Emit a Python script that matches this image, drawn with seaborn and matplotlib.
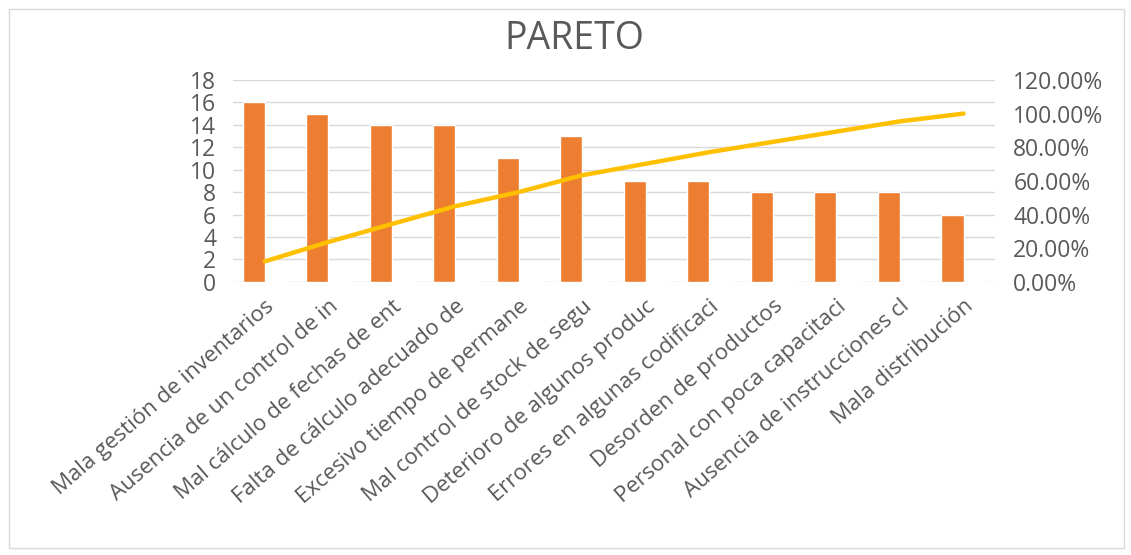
import numpy as np
import pandas as pd
import matplotlib
matplotlib.use('Agg')
import matplotlib.pyplot as plt
import matplotlib.patches as mpatches
from matplotlib.ticker import PercentFormatter
import seaborn as sns

causas = ["Mala gestión de inventarios", "Ausencia de un control de in",
          "Mal cálculo de fechas de ent", "Falta de cálculo adecuado de",
          "Excesivo tiempo de permane", "Mal control de stock de segu",
          "Deterioro de algunos produc", "Errores en algunas codificaci",
          "Desorden de productos", "Personal con poca capacitaci",
          "Ausencia de instrucciones cl", "Mala distribución"]
frecuencia = [16, 15, 14, 14, 11, 13, 9, 9, 8, 8, 8, 6]
porcentaje = [0.122, 0.115, 0.107, 0.107, 0.084, 0.099, 0.069, 0.069, 0.061, 0.061, 0.061, 0.046]
acumulado = [0.122, 0.237, 0.344, 0.450, 0.534, 0.634, 0.702, 0.771, 0.832, 0.893, 0.954, 1.000]

sns.set_style("white")
plt.rcParams['font.family'] = ['Open Sans', 'DejaVu Sans']
gris = "#595959"

df = pd.DataFrame({"causa": causas * 2,
                   "valor": frecuencia + porcentaje,
                   "serie": ["Frecuencia"] * len(causas) + ["%"] * len(causas)})

fig = plt.figure(figsize=(11.31, 5.55), dpi=100)
fig.patches.append(mpatches.Rectangle((0.008, 0.012), 0.986, 0.972, transform=fig.transFigure,
                                      fill=False, edgecolor="#D9D9D9", linewidth=1))
ax = fig.add_axes([0.206, 0.492, 0.674, 0.364])
sns.barplot(data=df, x="causa", y="valor", hue="serie", width=0.7, saturation=1,
            palette=["#ED7D31", "#A5A5A5"], legend=False, ax=ax)
ax.set_ylim(0, 18)
ax.set_yticks(range(0, 19, 2))
ax.set_xlim(-0.5, len(causas) - 0.5)
ax.grid(axis="y", color="#D9D9D9", linewidth=1)
ax.set_axisbelow(True)
for s in ax.spines.values():
    s.set_visible(False)
ax.set_xlabel("")
ax.set_ylabel("")
ax.tick_params(axis="y", labelsize=16.5, colors=gris, length=0, pad=12)
ax.tick_params(axis="x", labelsize=16, colors=gris, length=0, pad=10)
plt.setp(ax.get_xticklabels(), rotation=41, ha="right", rotation_mode="anchor")

ax2 = ax.twinx()
sns.lineplot(x=np.arange(len(causas)), y=acumulado, color="#FFC000", linewidth=3.2, ax=ax2)
ax2.set_ylim(0, 1.2)
ax2.set_yticks(np.arange(0, 1.21, 0.2))
ax2.yaxis.set_major_formatter(PercentFormatter(1.0, decimals=2))
ax2.tick_params(axis="y", labelsize=16.5, colors=gris, length=0, pad=13)
for s in ax2.spines.values():
    s.set_visible(False)

fig.text(0.508, 0.93, "PARETO", ha="center", va="center", fontsize=27, color=gris)

plt.savefig("out.png", dpi=100)
plt.close()
